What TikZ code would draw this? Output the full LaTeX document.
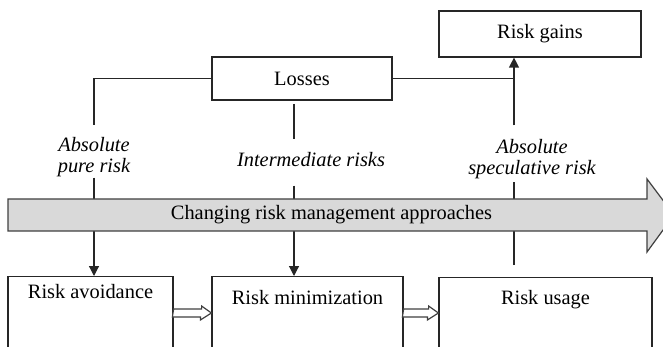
\documentclass[tikz,border=0pt]{standalone}
\usepackage{fontspec}
\setmainfont{Liberation Serif}
\usetikzlibrary{arrows.meta}
\usetikzlibrary{calc}

\tikzset{
    box/.style={draw=black!85,line width=0.6pt,inner sep=0pt},
    lowbox/.style={box,anchor=north,text depth=60pt},
    risklabel/.style={inner sep=0pt,align=center,
        font=\fontsize{10.2}{10.5}\selectfont\itshape},
    link/.style={draw=black!85,line width=0.6pt},
    tip/.style={link,-{Triangle[width=5pt,length=5pt]}},
    hollow/.style={draw=black!75,line width=0.6pt,fill=white}
}

\begin{document}
\begin{tikzpicture}[x=0.5pt,y=-0.5pt,font=\fontsize{10.2}{12}\selectfont]
        \useasboundingbox (0,0) rectangle (663,347);
        \clip (0,0) rectangle (663,347);

        % Boxes
        \node [box,minimum width=101pt,minimum height=23pt] (gains)
            at (540,34) {Risk gains};
        \node [box,minimum width=90pt,minimum height=21.5pt] (losses)
            at (302,78.5) {Losses};
        \node [lowbox,minimum width=82.5pt,text height=11pt] (avoid)
            at (90.5,276) {Risk avoidance};
        \node [lowbox,minimum width=95.5pt,text height=14pt] (minim)
            at (307.5,276) {Risk minimization};
        \node [lowbox,minimum width=106.5pt,text height=13.5pt] (usage)
            at (545.5,277) {Risk usage};

        % Labels
        \node [risklabel] (pure) at (94,157.5) {Absolute\\pure risk};
        \node [risklabel] (inter) at (311,160) {Intermediate risks};
        \node [risklabel] (spec) at (532,159.5) {Absolute\\speculative risk};

        % Connectors
        \coordinate (mid) at (294,104);
        \coordinate (specfoot) at (514,265);
        \draw [link] (losses.west) -| ($(pure.north)+(0,-12)$);
        \draw [tip] (pure.south) -- (pure.south |- avoid.north);
        \draw [link] (mid) -- ($(mid |- inter.north)+(0,-13)$);
        \draw [tip] ($(mid |- inter.south)+(0,18)$) -- (mid |- minim.north);
        \draw [link] (losses.east) -- (losses.east -| specfoot);
        \draw [tip] ($(specfoot |- spec.north)+(0,-14)$) -- (specfoot |- gains.south);
        \draw [link] (specfoot) -- ($(specfoot |- spec.south)+(0,2)$);

        % Approach arrow
        \path [fill=black!15,draw=black!75,line width=0.6pt] (8,199) -- (647,199)
            -- (647,179) -- (674,215) -- (647,252) -- (647,231) -- (8,231) -- cycle;
        \node (approach) at (331.5,215) {Changing risk management approaches};

        % Hollow arrows
        \draw [hollow] ($(avoid.north east)+(0,33)$) -- ++(28,0) -- ++(0,-3)
            -- ($(minim.north west)+(0,37)$) -- ++(-11,7) -- ++(0,-3)
            -- ++(-28,0) -- cycle;
        \draw [hollow] ($(minim.north east)+(0,33)$) -- ++(25,0) -- ++(0,-3)
            -- ($(usage.north west)+(0,36)$) -- ++(-11,7) -- ++(0,-3)
            -- ++(-25,0) -- cycle;
    \end{tikzpicture}
\end{document}
